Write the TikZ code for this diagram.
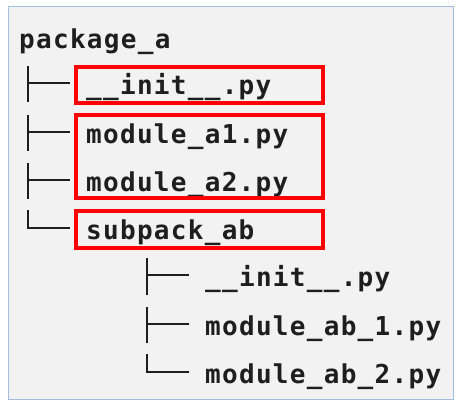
\documentclass[tikz,border=0pt]{standalone}
\usepackage{fontspec}
\usetikzlibrary{positioning}
\newfontfamily\treefont{DejaVu Sans Mono}[LetterSpace=5]
\definecolor{ink}{HTML}{1E1E1E}
\definecolor{hilite}{HTML}{FF0000}
\definecolor{frameblue}{HTML}{A3BFDF}
\definecolor{panel}{HTML}{F2F2F2}
\tikzset{
  item/.style={font=\treefont\bfseries\fontsize{26}{30}\selectfont, text=ink, inner sep=0pt,
    text height=28pt, text depth=5pt, anchor=west},
  stem/.style={draw=ink, line width=2pt},
  branch/.style={stem, shorten >=16pt},
  redbox/.style={draw=hilite, line width=4pt}
}
\begin{document}
\begin{tikzpicture}[x = 1pt, y = -1pt]
\useasboundingbox (0,0) rectangle (458,406);
% Panel
\fill[white] (0,0) rectangle (458,406);
\draw[frameblue, fill=panel, line width=1.5pt] (8.5,6.5) rectangle (453.5,399.5);
% Package root
\node[item] (pkg) at (19,37.5) {package\_a};
% First level
\node[item] (init) at (86,83) {\_\_init\_\_.py};
\node[item] (a1) at (86,132) {module\_a1.py};
\node[item] (a2) at (86,180) {module\_a2.py};
\node[item] (sub) at (86,228) {subpack\_ab};
% Second level
\node[item] (subinit) at (205,275.5) {\_\_init\_\_.py};
\node[item] (ab1) at (205,324) {module\_ab\_1.py};
\node[item] (ab2) at (205,372) {module\_ab\_2.py};
% Branch points
\coordinate (t1) at (28,83);
\coordinate (t2) at (28,132);
\coordinate (t3) at (28,180);
\coordinate (t4) at (28,228);
\coordinate (s1) at (147,275.5);
\coordinate (s2) at (147,324);
\coordinate (s3) at (147,372);
% Tree lines
\draw[stem] ([yshift=17pt]t1) -- ([yshift=-19pt]t1);
\draw[branch] (t1) -- (init.west);
\draw[stem] ([yshift=17pt]t2) -- ([yshift=-19pt]t2);
\draw[branch] (t2) -- (a1.west);
\draw[stem] ([yshift=17pt]t3) -- ([yshift=-19pt]t3);
\draw[branch] (t3) -- (a2.west);
\draw[branch] ([yshift=18pt]t4) -- (t4) -- (sub.west);
\draw[stem] ([yshift=17pt]s1) -- ([yshift=-19pt]s1);
\draw[branch] (s1) -- (subinit.west);
\draw[stem] ([yshift=17pt]s2) -- ([yshift=-19pt]s2);
\draw[branch] (s2) -- (ab1.west);
\draw[branch] ([yshift=18pt]s3) -- (s3) -- (ab2.west);
% Highlights
\draw[redbox] (76,67) rectangle (323,103);
\draw[redbox] (76,115) rectangle (323,198);
\draw[redbox] (76,211) rectangle (323,248);
\end{tikzpicture}
\end{document}
